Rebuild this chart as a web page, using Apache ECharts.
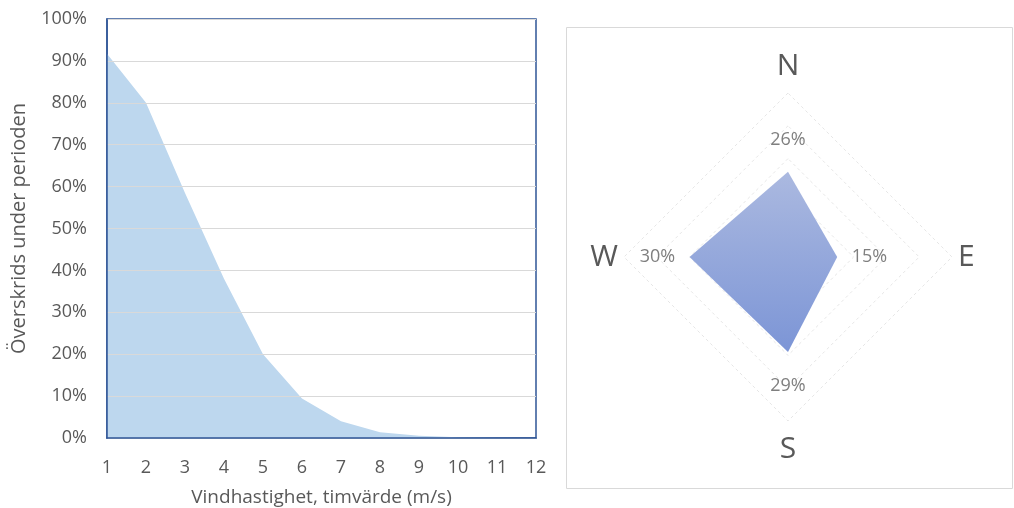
<!DOCTYPE html>
<html>
<head>
<meta charset="utf-8">
<script src="https://cdn.jsdelivr.net/npm/echarts@6/dist/echarts.min.js"></script>
<style>
html,body{margin:0;padding:0;background:#fff;}
#c{width:1014px;height:508px;}
</style>
</head>
<body>
<div id="c"></div>
<script>
// Left chart: exceedance vs wind speed
const speeds = ['1','2','3','4','5','6','7','8','9','10','11','12'];
const exceedance = [91.7, 80, 58.5, 38, 20, 9.4, 4.0, 1.4, 0.55, 0.2, 0.05, 0.02];
const yTicks = [0,10,20,30,40,50,60,70,80,90,100];
// Right chart: wind direction shares (counter-clockwise order from north)
const directions = ['N', 'W', 'S', 'E'];
const shares = [26, 30, 29, 15];
const radarMax = 50;

const FONT = 'Open Sans';
const TXT = '#595959';

const chart = echarts.init(document.getElementById('c'), null, {renderer:'canvas'});

const labelPositions = ['top', 'left', 'bottom', 'right'];
const labelDistances = [22, 14, 24, 14];
const labelItems = shares.map((v, i) => ({
  value: shares.map((_, j) => (j === i ? v : 0)),
  label: { position: labelPositions[i], distance: labelDistances[i] }
}));

chart.setOption({
  animation: false,
  textStyle: { fontFamily: FONT },
  graphic: [{
    type: 'rect', silent: true, z: -1,
    shape: { x: 566.5, y: 27.5, width: 446, height: 461 },
    style: { fill: 'none', stroke: '#d9d9d9', lineWidth: 1 }
  }],
  grid: {
    left: 107, top: 19, right: 478, bottom: 70,
    containLabel: false, outerBoundsMode: 'none',
    show: true, borderColor: '#2f5597', borderWidth: 1.5, backgroundColor: 'transparent'
  },
  xAxis: {
    type: 'category', data: speeds, boundaryGap: false, z: 3,
    name: 'Vindhastighet, timvärde (m/s)', nameLocation: 'middle', nameGap: 50,
    nameTextStyle: { color: TXT, fontSize: 19, fontFamily: FONT },
    axisLine: { show: true, lineStyle: { color: '#2f5597', width: 1.5 } },
    axisTick: { show: false },
    axisLabel: { color: TXT, fontSize: 18, margin: 21, fontFamily: FONT },
    splitLine: { show: false }
  },
  yAxis: {
    type: 'value', min: 0, max: 100, interval: 10, z: 3,
    name: 'Överskrids under perioden', nameLocation: 'middle', nameGap: 78,
    nameTextStyle: { color: TXT, fontSize: 20, fontFamily: FONT },
    axisLine: { show: true, lineStyle: { color: '#2f5597', width: 1.5 } },
    axisTick: { show: false },
    axisLabel: { color: TXT, fontSize: 18, margin: 20, fontFamily: FONT,
      formatter: v => (yTicks.indexOf(v) >= 0 ? v + '%' : '') },
    splitLine: { show: true, lineStyle: { color: '#d9d9d9', width: 1 } }
  },
  radar: {
    center: [788, 257], radius: 164, startAngle: 90,
    shape: 'polygon', splitNumber: 5,
    indicator: directions.map(d => ({ name: d, max: radarMax, min: 0 })),
    axisName: { color: TXT, fontSize: 30, fontFamily: FONT, padding: [7, 0, 6, 0] },
    nameGap: 6,
    axisLine: { show: false },
    axisTick: { show: false },
    axisLabel: { show: false },
    splitArea: { show: false },
    splitLine: { show: true, lineStyle: { color: '#e6e6e6', width: 1, type: [3, 3] } }
  },
  series: [
    {
      type: 'line', data: exceedance, symbol: 'none', z: 1,
      lineStyle: { width: 0 },
      areaStyle: { color: '#bdd7ee', opacity: 1 },
      silent: true
    },
    {
      type: 'radar', silent: true, symbol: 'none',
      data: [{ value: shares }],
      lineStyle: { width: 0 },
      areaStyle: {
        opacity: 1,
        color: new echarts.graphic.LinearGradient(0, 0, 0, 1, [
          { offset: 0, color: '#abb9e0' },
          { offset: 1, color: '#7c95d6' }
        ])
      }
    },
    {
      type: 'radar', silent: true, symbol: 'circle', symbolSize: 1,
      itemStyle: { color: 'rgba(0,0,0,0)' },
      lineStyle: { opacity: 0, width: 0 },
      label: {
        show: true, color: '#7f7f7f', fontSize: 18, fontFamily: FONT,
        formatter: p => (p.value ? p.value + '%' : '')
      },
      data: labelItems
    }
  ]
});
</script>
</body>
</html>
